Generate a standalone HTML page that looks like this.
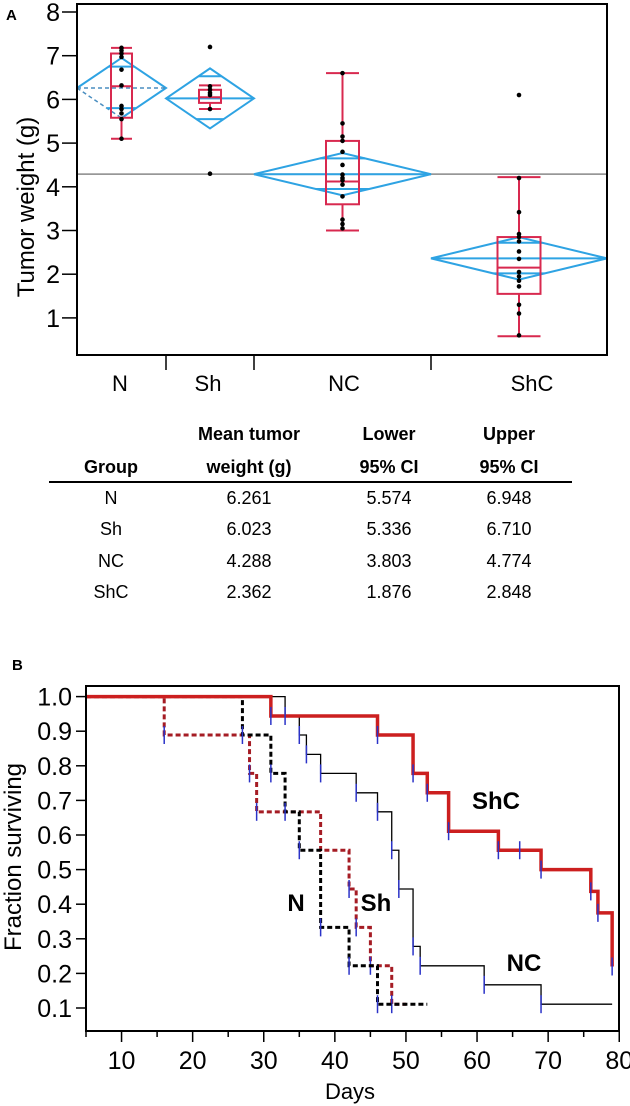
<!DOCTYPE html>
<html><head><meta charset="utf-8"><style>
body{margin:0;background:#fff;width:630px;height:1106px;overflow:hidden;font-family:"Liberation Sans",sans-serif}
svg{display:block}
</style></head><body>
<svg id="s" width="630" height="1106" viewBox="0 0 630 1106" xmlns="http://www.w3.org/2000/svg">
<text x="6" y="20" font-size="15" font-weight="bold">A</text>
<text x="12" y="666" font-size="15" font-weight="bold" dominant-baseline="middle">B</text>
<g id="pa"></g>
<g id="tbl" font-size="18" text-anchor="middle">
<text x="249" y="440" font-weight="bold">Mean tumor</text>
<text x="389" y="440" font-weight="bold">Lower</text>
<text x="509" y="440" font-weight="bold">Upper</text>
<text x="111" y="473" font-weight="bold">Group</text>
<text x="249" y="473" font-weight="bold">weight (g)</text>
<text x="389" y="473" font-weight="bold">95% CI</text>
<text x="509" y="473" font-weight="bold">95% CI</text>
<line x1="49" y1="482" x2="572" y2="482" stroke="#000" stroke-width="2"/>
</g>
<g id="pb"></g>
</svg>
<script>
const NS='http://www.w3.org/2000/svg';
function mk(p,t,a){const e=document.createElementNS(NS,t);for(const k in a)e.setAttribute(k,a[k]);p.appendChild(e);return e;}
// ---------- Panel A data ----------
const groups=['N','Sh','NC','ShC'];
const means=[6.261,6.023,4.288,2.362];
const ciLow=[5.574,5.336,3.803,1.876];
const ciHigh=[6.948,6.710,4.774,2.848];
const overlapHi=[6.75,6.53,4.65,2.72];
const overlapLo=[5.80,5.55,3.95,2.02];
const boxQ1=[5.58,5.92,3.60,1.55];
const boxMed=[6.30,6.05,4.12,2.15];
const boxQ3=[7.05,6.22,5.05,2.85];
const whiskLo=[5.10,5.78,3.00,0.58];
const whiskHi=[7.18,6.32,6.60,4.22];
const grandMean=4.29;
const ptsN=[7.18,7.12,7.05,6.97,6.68,6.32,5.85,5.78,5.68,5.55,5.1];
const ptsSh=[7.2,6.3,6.22,6.15,6.1,5.78,4.3];
const ptsNC=[6.6,5.45,5.15,5.05,4.8,4.5,4.28,4.2,4.15,4.05,3.78,3.25,3.15,3.05];
const ptsShC=[6.1,4.2,3.42,2.92,2.85,2.75,2.52,2.35,2.05,1.95,1.85,1.72,1.3,1.1,0.6];
const yTicksA=[1,2,3,4,5,6,7,8];
// ---------- Panel B data ----------
const shcT=[31,46,51,53,56,63,69,76,77,79], shcS=[0.944,0.889,0.778,0.722,0.611,0.556,0.5,0.437,0.375,0.22], shcEnd=79;
const ncT=[33,35,36,38,43,46,48,49,51,52,61,69], ncS=[0.944,0.889,0.833,0.778,0.722,0.667,0.556,0.444,0.278,0.222,0.167,0.111], ncEnd=79;
const shT=[16,28,29,38,42,43,45,48], shS=[0.889,0.778,0.667,0.556,0.444,0.333,0.222,0.111], shEnd=50;
const nT=[27,31,33,35,38,42,46], nS=[0.889,0.778,0.667,0.556,0.333,0.222,0.111], nEnd=53;
const shcCens=[31,33,46,51,53,56,63,66,69,76,77,79];
const ncCens=[35,36,38,43,46,48,49,51,52,61,69];
const shCens=[16,28,29,42,43,45,48];
const nCens=[27,31,33,35,38,42,46];
const xTicksB=[10,20,30,40,50,60,70,80];
const yTicksB=[0.1,0.2,0.3,0.4,0.5,0.6,0.7,0.8,0.9,1.0];

// ---------- Panel A draw ----------
const pa=document.getElementById('pa');
const AL=77,AR=607,AT=4,AB=355;
const ya=v=>12+(8-v)*43.7;
const bounds=[77,166,254,431,607];
const RED='#d8294f',BLUE='#2ea3e3';
let e;
yTicksA.forEach(v=>{
 e=mk(pa,'line',{x1:62,x2:AL,y1:ya(v),y2:ya(v),stroke:'#000','stroke-width':1.5});
 
 
 e=mk(pa,'text',{x:60,y:ya(v)+9,'font-size':25,'text-anchor':'end'});e.textContent=v;
 
 
});
e=mk(pa,'text',{x:0,y:0,'font-size':24,'text-anchor':'middle',transform:'translate(34,207) rotate(-90)'});e.textContent='Tumor weight (g)';


e=mk(pa,'line',{x1:AL,x2:AR,y1:ya(grandMean),y2:ya(grandMean),stroke:'#888','stroke-width':1.5});


groups.forEach((g,i)=>{
 const l=bounds[i],r=bounds[i+1],c=(l+r)/2;
 const my=ya(means[i]),ht=ya(ciHigh[i]),lo=ya(ciLow[i]);
 const half=(r-l)/2;
 const dg=mk(pa,'g',{});
 
 
 if(i===0){
  mk(dg,'polyline',{points:`${l},${my} ${c},${ht} ${r},${my} ${c},${lo}`,fill:'none',stroke:BLUE,'stroke-width':2});
  mk(dg,'line',{x1:l,y1:my,x2:c,y2:lo,stroke:'#4a8ec0','stroke-width':1.5,'stroke-dasharray':'4,3'});
  mk(dg,'line',{x1:l,y1:my,x2:r,y2:my,stroke:'#4a8ec0','stroke-width':1.5,'stroke-dasharray':'4,3'});
 } else {
  mk(dg,'polygon',{points:`${l},${my} ${c},${ht} ${r},${my} ${c},${lo}`,fill:'none',stroke:BLUE,'stroke-width':2});
  mk(dg,'line',{x1:l,y1:my,x2:r,y2:my,stroke:BLUE,'stroke-width':2});
 }
 [overlapHi[i],overlapLo[i]].forEach(v=>{
  const y=ya(v);const f=1-Math.abs(y-my)/(my-ht);const w=half*f;
  mk(dg,'line',{x1:c-w,y1:y,x2:c+w,y2:y,stroke:BLUE,'stroke-width':2});
 });
 const bw=i===1?11:(i===0?10.5:(i===2?16.5:21.5));
 const bg=mk(pa,'g',{stroke:RED,'stroke-width':2,fill:'none'});
 
 
 mk(bg,'rect',{x:c-bw,y:ya(boxQ3[i]),width:2*bw,height:ya(boxQ1[i])-ya(boxQ3[i])});
 mk(bg,'line',{x1:c-bw,x2:c+bw,y1:ya(boxMed[i]),y2:ya(boxMed[i])});
 mk(bg,'line',{x1:c,x2:c,y1:ya(whiskHi[i]),y2:ya(boxQ3[i])});
 mk(bg,'line',{x1:c,x2:c,y1:ya(boxQ1[i]),y2:ya(whiskLo[i])});
 mk(bg,'line',{x1:c-bw,x2:c+bw,y1:ya(whiskHi[i]),y2:ya(whiskHi[i])});
 mk(bg,'line',{x1:c-bw,x2:c+bw,y1:ya(whiskLo[i]),y2:ya(whiskLo[i])});
 const pts=[ptsN,ptsSh,ptsNC,ptsShC][i];
 pts.forEach(v=>{
  e=mk(pa,'circle',{cx:c,cy:ya(v),r:2.3,fill:'#000'});
  
  
 });
 const lx=[120,208,344,532][i];
 e=mk(pa,'text',{x:lx,y:391,'font-size':22,'text-anchor':'middle'});e.textContent=g;
 
 
 if(i>0){e=mk(pa,'line',{x1:l,x2:l,y1:AB,y2:370,stroke:'#000','stroke-width':1.5});
 
 }
});
e=mk(pa,'rect',{x:AL,y:AT,width:AR-AL,height:AB-AT,fill:'none',stroke:'#000','stroke-width':2});



// ---------- Table ----------
const tbl=document.getElementById('tbl');
const rowsY=[504,535,567,598];
groups.forEach((g,i)=>{
 [[111,g],[249,means[i].toFixed(3)],[389,ciLow[i].toFixed(3)],[509,ciHigh[i].toFixed(3)]].forEach(([x,t])=>{
  e=mk(tbl,'text',{x:x,y:rowsY[i]});e.textContent=t;
  
  
 });
});

// ---------- Panel B draw ----------
const pb=document.getElementById('pb');
const BL=86,BR=619,BT=686,BB=1031;
const xb=d=>86+(d-5)*7.11;
const yb=s=>1008-(s-0.1)/0.1*34.6;
yTicksB.forEach(v=>{
 e=mk(pb,'line',{x1:76,x2:BL,y1:yb(v),y2:yb(v),stroke:'#000','stroke-width':1.5});
 
 
 e=mk(pb,'text',{x:72,y:yb(v)+9,'font-size':25,'text-anchor':'end'});e.textContent=v.toFixed(1);
 
 
});
for(let d=5;d<=80;d+=5){
 e=mk(pb,'line',{x1:xb(d),x2:xb(d),y1:BB,y2:BB+(d%10===0?11:6),stroke:'#000','stroke-width':1.5});
 
 
}
xTicksB.forEach(v=>{
 e=mk(pb,'text',{x:xb(v),y:1069,'font-size':25,'text-anchor':'middle'});e.textContent=v;
 
 
});
e=mk(pb,'text',{x:350,y:1099,'font-size':22,'text-anchor':'middle'});e.textContent='Days';


e=mk(pb,'text',{x:0,y:0,'font-size':24,'text-anchor':'middle',transform:'translate(21,857) rotate(-90)'});e.textContent='Fraction surviving';


function stepPath(T,S,end){
 let d=`M${xb(5)},${yb(1)}`;
 T.forEach((t,i)=>{d+=` H${xb(t)} V${yb(S[i])}`;});
 if(end>T[T.length-1])d+=` H${xb(end)}`;
 return d;
}
function survAt(T,S,t){let s=1;T.forEach((tt,i)=>{if(tt<=t)s=S[i];});return s;}
function curve(name,T,S,end,col,w,dash,cens){
 const g=mk(pb,'g',{});
 
 
 const a={d:stepPath(T,S,end),fill:'none',stroke:col,'stroke-width':w};
 if(dash)a['stroke-dasharray']=dash;
 mk(g,'path',a);
 cens.forEach(t=>{
  const y=yb(survAt(T,S,t));
  e=mk(g,'line',{x1:xb(t),x2:xb(t),y1:y-9,y2:y+9,stroke:'#2b33c8','stroke-width':1.5});
  
  
 });
}
curve('nc',ncT,ncS,ncEnd,'#000',1.3,null,ncCens);
curve('sh',shT,shS,shEnd,'#a51c24',3,'5,3',shCens);
curve('n',nT,nS,nEnd,'#000',3,'5,3',nCens);
curve('shc',shcT,shcS,shcEnd,'#cc1f1f',3.5,null,shcCens);
[['ShC',496,809],['NC',524,971],['N',296,911],['Sh',376,911]].forEach(([t,x,y])=>{
 e=mk(pb,'text',{x:x,y:y,'font-size':24,'font-weight':'bold','text-anchor':'middle'});e.textContent=t;
 
 
});
e=mk(pb,'rect',{x:BL,y:BT,width:BR-BL,height:BB-BT,fill:'none',stroke:'#000','stroke-width':2});


</script>
</body></html>
